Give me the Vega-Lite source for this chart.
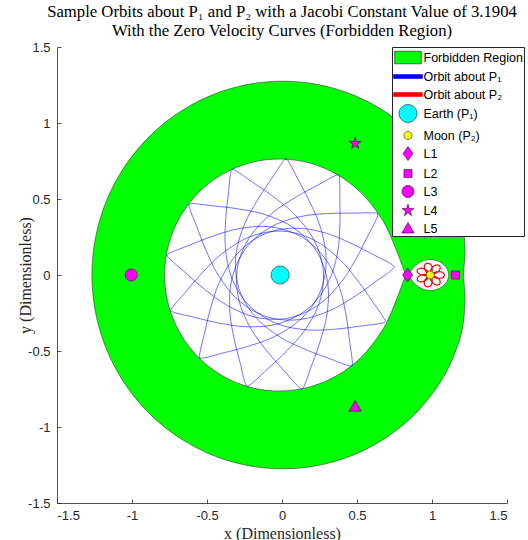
{
  "$schema": "https://vega.github.io/schema/vega-lite/v6.json",
  "width": 450,
  "height": 456,
  "autosize": {"type": "none"},
  "padding": {"left": 57, "top": 47, "right": 21, "bottom": 37},
  "background": "#ffffff",
  "title": {
    "text": ["Sample Orbits about P₁ and P₂ with a Jacobi Constant Value of 3.1904", "With the Zero Velocity Curves (Forbidden Region)"],
    "font": "Liberation Serif",
    "fontSize": 16.7,
    "fontWeight": "normal",
    "color": "#000000",
    "anchor": "middle",
    "lineHeight": 19,
    "offset": 1
  },
  "datasets": {
    "outer": [
      {"i":0,"x":1.2105,"y":0},{"i":1,"x":1.2197,"y":0.1498},{"i":2,"x":1.2074,"y":0.3235},{"i":3,"x":1.1683,"y":0.4720},
      {"i":4,"x":1.0978,"y":0.6338},{"i":5,"x":1.0084,"y":0.7738},{"i":6,"x":0.9009,"y":0.9009},{"i":7,"x":0.7763,"y":1.0117},
      {"i":8,"x":0.6381,"y":1.1052},{"i":9,"x":0.4884,"y":1.1791},{"i":10,"x":0.3303,"y":1.2325},{"i":11,"x":0.1665,"y":1.2646},
      {"i":12,"x":0,"y":1.275},{"i":13,"x":-0.1663,"y":1.2634},{"i":14,"x":-0.3296,"y":1.2301},{"i":15,"x":-0.4870,"y":1.1756},
      {"i":16,"x":-0.6358,"y":1.1011},{"i":17,"x":-0.7736,"y":1.0082},{"i":18,"x":-0.8980,"y":0.8980},{"i":19,"x":-1.0068,"y":0.7726},
      {"i":20,"x":-1.0983,"y":0.6341},{"i":21,"x":-1.1712,"y":0.4851},{"i":22,"x":-1.2241,"y":0.3280},{"i":23,"x":-1.2561,"y":0.1653},
      {"i":24,"x":-1.267,"y":0},{"i":25,"x":-1.2561,"y":-0.1653},{"i":26,"x":-1.2241,"y":-0.3280},{"i":27,"x":-1.1712,"y":-0.4851},
      {"i":28,"x":-1.0983,"y":-0.6341},{"i":29,"x":-1.0068,"y":-0.7726},{"i":30,"x":-0.8980,"y":-0.8980},{"i":31,"x":-0.7736,"y":-1.0082},
      {"i":32,"x":-0.6358,"y":-1.1011},{"i":33,"x":-0.4870,"y":-1.1756},{"i":34,"x":-0.3296,"y":-1.2301},{"i":35,"x":-0.1663,"y":-1.2634},
      {"i":36,"x":0,"y":-1.275},{"i":37,"x":0.1665,"y":-1.2646},{"i":38,"x":0.3303,"y":-1.2325},{"i":39,"x":0.4884,"y":-1.1791},
      {"i":40,"x":0.6381,"y":-1.1052},{"i":41,"x":0.7763,"y":-1.0117},{"i":42,"x":0.9009,"y":-0.9009},{"i":43,"x":1.0084,"y":-0.7738},
      {"i":44,"x":1.0978,"y":-0.6338},{"i":45,"x":1.1683,"y":-0.4720},{"i":46,"x":1.2074,"y":-0.3235},{"i":47,"x":1.2197,"y":-0.1498}
    ],
    "earthRegion": [
      {"i":0,"x":0.8233,"y":0},{"i":1,"x":0.8187,"y":0.02},{"i":2,"x":0.8091,"y":0.04},{"i":3,"x":0.7983,"y":0.0709},
      {"i":4,"x":0.7723,"y":0.1383},{"i":5,"x":0.7194,"y":0.2663},{"i":6,"x":0.6547,"y":0.3850},{"i":7,"x":0.5283,"y":0.5404},
      {"i":8,"x":0.3690,"y":0.6603},{"i":9,"x":0.1851,"y":0.7361},{"i":10,"x":-0.0122,"y":0.7631},{"i":11,"x":-0.2101,"y":0.7389},
      {"i":12,"x":-0.3953,"y":0.6637},{"i":13,"x":-0.5553,"y":0.5431},{"i":14,"x":-0.6782,"y":0.3846},{"i":15,"x":-0.7560,"y":0.1993},
      {"i":16,"x":-0.7827,"y":0},{"i":17,"x":-0.7560,"y":-0.1993},{"i":18,"x":-0.6782,"y":-0.3846},{"i":19,"x":-0.5553,"y":-0.5431},
      {"i":20,"x":-0.3953,"y":-0.6637},{"i":21,"x":-0.2101,"y":-0.7389},{"i":22,"x":-0.0122,"y":-0.7631},{"i":23,"x":0.1851,"y":-0.7361},
      {"i":24,"x":0.3690,"y":-0.6603},{"i":25,"x":0.5283,"y":-0.5404},{"i":26,"x":0.6547,"y":-0.3850},{"i":27,"x":0.7194,"y":-0.2663},
      {"i":28,"x":0.7723,"y":-0.1383},{"i":29,"x":0.7983,"y":-0.0709},{"i":30,"x":0.8091,"y":-0.04},{"i":31,"x":0.8187,"y":-0.02}
    ],
    "moonRegion": [
      {"i":0,"x":1.1112,"y":0},{"i":1,"x":1.1083,"y":0.0212},{"i":2,"x":1.1001,"y":0.0409},{"i":3,"x":1.0883,"y":0.0580},
      {"i":4,"x":1.0658,"y":0.0780},{"i":5,"x":1.0492,"y":0.0877},{"i":6,"x":1.0233,"y":0.0975},{"i":7,"x":1.0056,"y":0.1009},
      {"i":8,"x":0.9879,"y":0.1019},{"i":9,"x":0.9701,"y":0.1006},{"i":10,"x":0.9526,"y":0.0968},{"i":11,"x":0.9355,"y":0.0908},
      {"i":12,"x":0.9105,"y":0.0774},{"i":13,"x":0.8942,"y":0.0656},{"i":14,"x":0.8865,"y":0.0585},{"i":15,"x":0.8716,"y":0.0423},
      {"i":16,"x":0.8576,"y":0.0230},{"i":17,"x":0.8534,"y":0.0118},{"i":18,"x":0.8505,"y":0},{"i":19,"x":0.8534,"y":-0.0118},
      {"i":20,"x":0.8576,"y":-0.0230},{"i":21,"x":0.8716,"y":-0.0423},{"i":22,"x":0.8865,"y":-0.0585},{"i":23,"x":0.8942,"y":-0.0656},
      {"i":24,"x":0.9105,"y":-0.0774},{"i":25,"x":0.9355,"y":-0.0908},{"i":26,"x":0.9526,"y":-0.0968},{"i":27,"x":0.9701,"y":-0.1006},
      {"i":28,"x":0.9879,"y":-0.1019},{"i":29,"x":1.0056,"y":-0.1009},{"i":30,"x":1.0233,"y":-0.0975},{"i":31,"x":1.0492,"y":-0.0877},
      {"i":32,"x":1.0658,"y":-0.0780},{"i":33,"x":1.0883,"y":-0.0580},{"i":34,"x":1.1001,"y":-0.0409},{"i":35,"x":1.1083,"y":-0.0212}
    ],
    "orbitP1": [
      {"i":0,"x":0.7511,"y":0.0534},
      {"i":1,"x":0.7168,"y":0.0789},{"i":2,"x":0.6212,"y":0.1274},{"i":3,"x":0.4745,"y":0.2020},{"i":4,"x":0.2872,"y":0.2770},
      {"i":5,"x":0.0752,"y":0.3086},{"i":6,"x":-0.1333,"y":0.2622},{"i":7,"x":-0.3037,"y":0.1338},{"i":8,"x":-0.4173,"y":-0.0480},
      {"i":9,"x":-0.4818,"y":-0.2393},{"i":10,"x":-0.5202,"y":-0.3993},{"i":11,"x":-0.5454,"y":-0.5035},{"i":12,"x":-0.5482,"y":-0.5462},
      {"i":13,"x":-0.5055,"y":-0.5425},{"i":14,"x":-0.4019,"y":-0.5154},{"i":15,"x":-0.2426,"y":-0.4740},{"i":16,"x":-0.0526,"y":-0.4059},
      {"i":17,"x":0.1270,"y":-0.2889},{"i":18,"x":0.2523,"y":-0.1160},{"i":19,"x":0.2947,"y":0.0932},{"i":20,"x":0.2592,"y":0.3046},
      {"i":21,"x":0.1806,"y":0.4905},{"i":22,"x":0.1032,"y":0.6357},{"i":23,"x":0.0530,"y":0.7304},{"i":24,"x":0.0268,"y":0.7642},
      {"i":25,"x":-0.0027,"y":0.7332},{"i":26,"x":-0.0623,"y":0.6442},{"i":27,"x":-0.1541,"y":0.5075},{"i":28,"x":-0.2512,"y":0.3306},
      {"i":29,"x":-0.3080,"y":0.1239},{"i":30,"x":-0.2871,"y":-0.0886},{"i":31,"x":-0.1801,"y":-0.2732},{"i":32,"x":-0.0133,"y":-0.4079},
      {"i":33,"x":0.1687,"y":-0.4950},{"i":34,"x":0.3230,"y":-0.5524},{"i":35,"x":0.4234,"y":-0.5899},{"i":36,"x":0.4654,"y":-0.5979},
      {"i":37,"x":0.4670,"y":-0.5551},{"i":38,"x":0.4525,"y":-0.4489},{"i":39,"x":0.4306,"y":-0.2858},{"i":40,"x":0.3859,"y":-0.0890},
      {"i":41,"x":0.2914,"y":0.1034},{"i":42,"x":0.1348,"y":0.2486},{"i":43,"x":-0.0677,"y":0.3159},{"i":44,"x":-0.2819,"y":0.3061},
      {"i":45,"x":-0.4759,"y":0.2505},{"i":46,"x":-0.6294,"y":0.1912},{"i":47,"x":-0.7294,"y":0.1527},{"i":48,"x":-0.7662,"y":0.1308},
      {"i":49,"x":-0.7390,"y":0.0978},{"i":50,"x":-0.6577,"y":0.0278},{"i":51,"x":-0.5331,"y":-0.0797},{"i":52,"x":-0.3692,"y":-0.1974},
      {"i":53,"x":-0.1709,"y":-0.2787},{"i":54,"x":0.0426,"y":-0.2836},{"i":55,"x":0.2388,"y":-0.1996},{"i":56,"x":0.3926,"y":-0.0503},
      {"i":57,"x":0.5010,"y":0.1200},{"i":58,"x":0.5765,"y":0.2662},{"i":59,"x":0.6259,"y":0.3613},{"i":60,"x":0.6388,"y":0.4021},
      {"i":61,"x":0.5966,"y":0.4088},{"i":62,"x":0.4894,"y":0.4072},{"i":63,"x":0.3249,"y":0.4051},{"i":64,"x":0.1241,"y":0.3845},
      {"i":65,"x":-0.0783,"y":0.3138},{"i":66,"x":-0.2413,"y":0.1759},{"i":67,"x":-0.3324,"y":-0.0171},{"i":68,"x":-0.3485,"y":-0.2308},
      {"i":69,"x":-0.3167,"y":-0.4301},{"i":70,"x":-0.2763,"y":-0.5896},{"i":71,"x":-0.2502,"y":-0.6936},{"i":72,"x":-0.2329,"y":-0.7327},
      {"i":73,"x":-0.1968,"y":-0.7097},{"i":74,"x":-0.1176,"y":-0.6374},{"i":75,"x":0.0042,"y":-0.5268},{"i":76,"x":0.1407,"y":-0.3781},
      {"i":77,"x":0.2454,"y":-0.1911},{"i":78,"x":0.2759,"y":0.0201},{"i":79,"x":0.2162,"y":0.2251},{"i":80,"x":0.0865,"y":0.3958},
      {"i":81,"x":-0.0695,"y":0.5239},{"i":82,"x":-0.2055,"y":0.6165},{"i":83,"x":-0.2940,"y":0.6770},{"i":84,"x":-0.3329,"y":0.6947},
      {"i":85,"x":-0.3447,"y":0.6536},{"i":86,"x":-0.3560,"y":0.5470},{"i":87,"x":-0.3738,"y":0.3834},{"i":88,"x":-0.3774,"y":0.1816},
      {"i":89,"x":-0.3317,"y":-0.0278},{"i":90,"x":-0.2145,"y":-0.2061},{"i":91,"x":-0.0339,"y":-0.3200},{"i":92,"x":0.1764,"y":-0.3617},
      {"i":93,"x":0.3781,"y":-0.3541},{"i":94,"x":0.5413,"y":-0.3333},{"i":95,"x":0.6477,"y":-0.3199},{"i":96,"x":0.6886,"y":-0.3073},
      {"i":97,"x":0.6701,"y":-0.2688},{"i":98,"x":0.6079,"y":-0.1815},{"i":99,"x":0.5127,"y":-0.0472},{"i":100,"x":0.3816,"y":0.1063},
      {"i":101,"x":0.2085,"y":0.2327},{"i":102,"x":0.0025,"y":0.2884},{"i":103,"x":-0.2082,"y":0.2539},{"i":104,"x":-0.3932,"y":0.1457},
      {"i":105,"x":-0.5392,"y":0.0063},{"i":106,"x":-0.6475,"y":-0.1176},{"i":107,"x":-0.7182,"y":-0.1982},{"i":108,"x":-0.7405,"y":-0.2347},
      {"i":109,"x":-0.7011,"y":-0.2513},{"i":110,"x":-0.5967,"y":-0.2754},{"i":111,"x":-0.4364,"y":-0.3127},{"i":112,"x":-0.2365,"y":-0.3407},
      {"i":113,"x":-0.0231,"y":-0.3205},{"i":114,"x":0.1681,"y":-0.2256},{"i":115,"x":0.3028,"y":-0.0600},{"i":116,"x":0.3696,"y":0.1437},
      {"i":117,"x":0.3864,"y":0.3448},{"i":118,"x":0.3853,"y":0.5093},{"i":119,"x":0.3848,"y":0.6165},{"i":120,"x":0.3773,"y":0.6587},
      {"i":121,"x":0.3368,"y":0.6449},{"i":122,"x":0.2426,"y":0.5937},{"i":123,"x":0.0979,"y":0.5154},{"i":124,"x":-0.0702,"y":0.4038},
      {"i":125,"x":-0.2166,"y":0.2471},{"i":126,"x":-0.2968,"y":0.0494},{"i":127,"x":-0.2878,"y":-0.1640},{"i":128,"x":-0.2027,"y":-0.3607},
      {"i":129,"x":-0.0819,"y":-0.5224},{"i":130,"x":0.0280,"y":-0.6449},{"i":131,"x":0.0995,"y":-0.7248},{"i":132,"x":0.1330,"y":-0.7513},
      {"i":133,"x":0.1543,"y":-0.7142},{"i":134,"x":0.1908,"y":-0.6134},{"i":135,"x":0.2472,"y":-0.4588},{"i":136,"x":0.2990,"y":-0.2637},
      {"i":137,"x":0.3047,"y":-0.0494},{"i":138,"x":0.2335,"y":0.1518},{"i":139,"x":0.0854,"y":0.3055},{"i":140,"x":-0.1088,"y":0.3963},
      {"i":141,"x":-0.3064,"y":0.4372},{"i":142,"x":-0.4699,"y":0.4560},{"i":143,"x":-0.5764,"y":0.4684},{"i":144,"x":-0.6191,"y":0.4660},
      {"i":145,"x":-0.6104,"y":0.4242},{"i":146,"x":-0.5709,"y":0.3245},{"i":147,"x":-0.5106,"y":0.1714},{"i":148,"x":-0.4200,"y":-0.0090},
      {"i":149,"x":-0.2822,"y":-0.1731},{"i":150,"x":-0.0955,"y":-0.2765},{"i":151,"x":0.1174,"y":-0.2934},{"i":152,"x":0.3229,"y":-0.2326},
      {"i":153,"x":0.4980,"y":-0.1321},{"i":154,"x":0.6328,"y":-0.0378},{"i":155,"x":0.7207,"y":0.0235},{"i":156,"x":0.7511,"y":0.0534}
    ],
    "orbitP2": [
      {"i":0,"x":0.9879,"y":0},
      {"i":1,"x":1.0181,"y":-0.0170},{"i":2,"x":1.0499,"y":-0.0216},{"i":3,"x":1.0739,"y":-0.0144},{"i":4,"x":1.0829,"y":0},
      {"i":5,"x":1.0739,"y":0.0144},{"i":6,"x":1.0499,"y":0.0216},{"i":7,"x":1.0181,"y":0.0170},{"i":8,"x":0.9879,"y":0},
      {"i":9,"x":1.0225,"y":0.0093},{"i":10,"x":1.0466,"y":0.0274},{"i":11,"x":1.0549,"y":0.0477},{"i":12,"x":1.0471,"y":0.0625},
      {"i":13,"x":1.0281,"y":0.0657},{"i":14,"x":1.0064,"y":0.0544},{"i":15,"x":0.9909,"y":0.0305},{"i":16,"x":0.9879,"y":0},
      {"i":17,"x":1.0008,"y":0.0286},{"i":18,"x":0.9991,"y":0.0558},{"i":19,"x":0.9854,"y":0.0739},{"i":20,"x":0.9667,"y":0.0780},
      {"i":21,"x":0.9520,"y":0.0675},{"i":22,"x":0.9490,"y":0.0461},{"i":23,"x":0.9614,"y":0.0210},{"i":24,"x":0.9879,"y":0},
      {"i":25,"x":0.9694,"y":0.0264},{"i":26,"x":0.9431,"y":0.0422},{"i":27,"x":0.9177,"y":0.0444},{"i":28,"x":0.9023,"y":0.0347},
      {"i":29,"x":0.9029,"y":0.0185},{"i":30,"x":0.9208,"y":0.0032},{"i":31,"x":0.9519,"y":-0.0043},{"i":32,"x":0.9879,"y":0},
      {"i":33,"x":0.9519,"y":0.0043},{"i":34,"x":0.9208,"y":-0.0032},{"i":35,"x":0.9029,"y":-0.0185},{"i":36,"x":0.9023,"y":-0.0347},
      {"i":37,"x":0.9177,"y":-0.0444},{"i":38,"x":0.9431,"y":-0.0422},{"i":39,"x":0.9694,"y":-0.0264},{"i":40,"x":0.9879,"y":0},
      {"i":41,"x":0.9614,"y":-0.0210},{"i":42,"x":0.9490,"y":-0.0461},{"i":43,"x":0.9520,"y":-0.0675},{"i":44,"x":0.9667,"y":-0.0780},
      {"i":45,"x":0.9854,"y":-0.0739},{"i":46,"x":0.9991,"y":-0.0558},{"i":47,"x":1.0008,"y":-0.0286},{"i":48,"x":0.9879,"y":0},
      {"i":49,"x":0.9909,"y":-0.0305},{"i":50,"x":1.0064,"y":-0.0544},{"i":51,"x":1.0281,"y":-0.0657},{"i":52,"x":1.0471,"y":-0.0625},
      {"i":53,"x":1.0549,"y":-0.0477},{"i":54,"x":1.0466,"y":-0.0274},{"i":55,"x":1.0225,"y":-0.0093},{"i":56,"x":0.9879,"y":0}
    ],
    "bodies": [
      {"name":"Earth (P₁)","x":-0.0122,"y":0},
      {"name":"Moon (P₂)","x":0.9878,"y":0},
      {"name":"L1","x":0.8369,"y":0},
      {"name":"L2","x":1.1557,"y":0},
      {"name":"L3","x":-1.0051,"y":0},
      {"name":"L4","x":0.4878,"y":0.8660},
      {"name":"L5","x":0.4878,"y":-0.8660}
    ]
  },
  "encoding": {
    "x": {
      "field": "x", "type": "quantitative",
      "scale": {"domain": [-1.5, 1.5], "nice": false, "zero": false},
      "axis": {
        "title": "x (Dimensionless)",
        "values": [-1.5, -1, -0.5, 0, 0.5, 1, 1.5],
        "labelExpr": "replace(format(datum.value, '~g'), '−', '-')",
        "labelPadding": 10,
        "titlePadding": 3
      }
    },
    "y": {
      "field": "y", "type": "quantitative",
      "scale": {"domain": [-1.5, 1.5], "nice": false, "zero": false},
      "axis": {
        "title": "y (Dimensionless)",
        "values": [-1.5, -1, -0.5, 0, 0.5, 1, 1.5],
        "labelExpr": "replace(format(datum.value, '~g'), '−', '-')",
        "labelPadding": 11,
        "titlePadding": -6
      }
    }
  },
  "layer": [
    {
      "data": {"name": "outer"},
      "mark": {"type": "line", "interpolate": "cardinal-closed", "fill": "#00ff00", "stroke": "#333333", "strokeWidth": 0.6},
      "encoding": {"order": {"field": "i", "type": "quantitative"}}
    },
    {
      "data": {"name": "earthRegion"},
      "mark": {"type": "line", "interpolate": "cardinal-closed", "fill": "#ffffff", "stroke": "#333333", "strokeWidth": 0.6},
      "encoding": {"order": {"field": "i", "type": "quantitative"}}
    },
    {
      "data": {"name": "moonRegion"},
      "mark": {"type": "line", "interpolate": "cardinal-closed", "fill": "#ffffff", "stroke": "#333333", "strokeWidth": 0.6},
      "encoding": {"order": {"field": "i", "type": "quantitative"}}
    },
    {
      "data": {"name": "orbitP1"},
      "mark": {"type": "line", "interpolate": "catmull-rom", "stroke": "#0000ff", "strokeWidth": 0.8, "opacity": 0.7},
      "encoding": {"order": {"field": "i", "type": "quantitative"}}
    },
    {
      "data": {"name": "orbitP2"},
      "mark": {"type": "line", "interpolate": "catmull-rom", "stroke": "#ff0000", "strokeWidth": 1.2},
      "encoding": {"order": {"field": "i", "type": "quantitative"}}
    },
    {
      "data": {"name": "bodies"},
      "mark": {"type": "point", "filled": true, "opacity": 1, "size": 324, "strokeWidth": 0.6},
      "encoding": {
        "color": {
          "field": "name", "type": "nominal",
          "scale": {
            "domain": ["Forbidden Region", "Orbit about P₁", "Orbit about P₂", "Earth (P₁)", "Moon (P₂)", "L1", "L2", "L3", "L4", "L5"],
            "range": ["#00ff00", "#0000ff", "#ff0000", "#00ffff", "#ffff00", "#ff00ff", "#ff00ff", "#ff00ff", "#ff00ff", "#ff00ff"]
          },
          "legend": {
            "title": null,
            "orient": "none",
            "legendX": 335,
            "legendY": 0,
            "padding": 1,
            "rowPadding": 2,
            "symbolOffset": 5.5,
            "labelOffset": 6,
            "labelFont": "Liberation Sans",
            "labelFontSize": 12.5,
            "labelColor": "#000000",
            "labelLimit": 200,
            "strokeColor": "#262626",
            "fillColor": "#ffffff",
            "symbolSize": 324,
            "symbolStrokeWidth": 0.6
          }
        },
        "stroke": {
          "field": "name", "type": "nominal",
          "scale": {
            "domain": ["Forbidden Region", "Orbit about P₁", "Orbit about P₂", "Earth (P₁)", "Moon (P₂)", "L1", "L2", "L3", "L4", "L5"],
            "range": ["#1a1a1a", "#0000ff", "#ff0000", "#1a1a1a", "#1a1a1a", "#1a1a1a", "#1a1a1a", "#1a1a1a", "#1a1a1a", "#1a1a1a"]
          },
          "legend": {
            "title": null,
            "orient": "none",
            "legendX": 335,
            "legendY": 0,
            "padding": 1,
            "rowPadding": 2,
            "symbolOffset": 5.5,
            "labelOffset": 6,
            "labelFont": "Liberation Sans",
            "labelFontSize": 12.5,
            "labelColor": "#000000",
            "labelLimit": 200,
            "strokeColor": "#262626",
            "fillColor": "#ffffff",
            "symbolSize": 324,
            "symbolStrokeWidth": 0.6
          }
        },
        "shape": {
          "field": "name", "type": "nominal",
          "scale": {
            "domain": ["Forbidden Region", "Orbit about P₁", "Orbit about P₂", "Earth (P₁)", "Moon (P₂)", "L1", "L2", "L3", "L4", "L5"],
            "range": [
              "M-1.48,-0.7H1.48V0.7H-1.48Z",
              "M-1.61,-0.22H1.61V0.22H-1.61Z",
              "M-1.61,-0.22H1.61V0.22H-1.61Z",
              "M-1,0A1,1,0,1,1,1,0A1,1,0,1,1,-1,0Z",
              "M-0.45,0A0.45,0.45,0,1,1,0.45,0A0.45,0.45,0,1,1,-0.45,0Z",
              "M0,-0.78L0.56,0L0,0.78L-0.56,0Z",
              "M-0.45,-0.45H0.45V0.45H-0.45Z",
              "M-0.67,0A0.67,0.67,0,1,1,0.67,0A0.67,0.67,0,1,1,-0.67,0Z",
              "M0,-0.7L0.1572,-0.2163L0.6657,-0.2163L0.2543,0.0826L0.4114,0.5663L0,0.2674L-0.4114,0.5663L-0.2543,0.0826L-0.6657,-0.2163L-0.1572,-0.2163Z",
              "M0,-0.68L0.68,0.5L-0.68,0.5Z"
            ]
          },
          "legend": {
            "title": null,
            "orient": "none",
            "legendX": 335,
            "legendY": 0,
            "padding": 1,
            "rowPadding": 2,
            "symbolOffset": 5.5,
            "labelOffset": 6,
            "labelFont": "Liberation Sans",
            "labelFontSize": 12.5,
            "labelColor": "#000000",
            "labelLimit": 200,
            "strokeColor": "#262626",
            "fillColor": "#ffffff",
            "symbolSize": 324,
            "symbolStrokeWidth": 0.6
          }
        }
      }
    }
  ],
  "config": {
    "view": {"stroke": null},
    "font": "Liberation Sans",
    "axis": {
      "grid": false,
      "domainColor": "#262626",
      "domainWidth": 0.8,
      "tickColor": "#262626",
      "tickWidth": 0.8,
      "tickSize": -4,
      "labelColor": "#262626",
      "labelFont": "Liberation Sans",
      "labelFontSize": 13,
      "titleFont": "Liberation Serif",
      "titleFontSize": 16,
      "titleFontWeight": "normal",
      "titleColor": "#262626"
    }
  }
}
